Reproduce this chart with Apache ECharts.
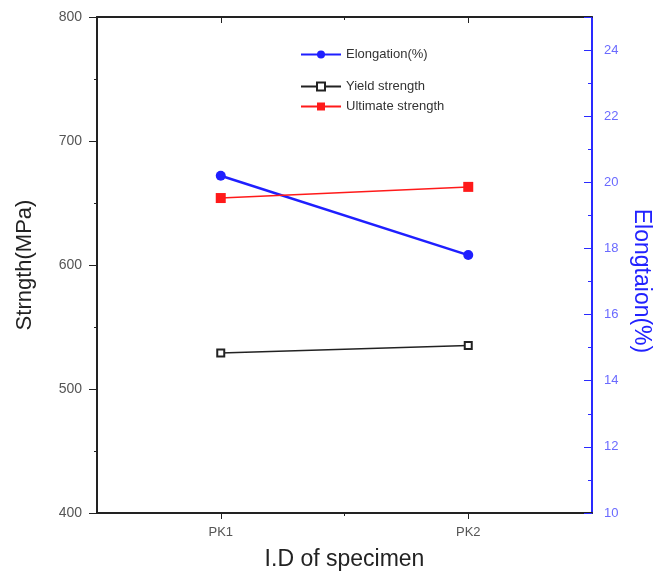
<!DOCTYPE html>
<html lang="en">
  <head>
    <meta charset="UTF-8" />
    <script src="https://cdn.jsdelivr.net/npm/echarts@6/dist/echarts.min.js"></script>
    <title>Strength and elongation</title>
    <style>
      body { margin: 0; background: #fff; }
    </style>
  </head>
  <body>
    <div id="main" style="width: 661px; height: 574px"></div>
    <script>
      var categories = ["PK1", "PK2"];
      var elongation = [20.2, 17.8];
      var yieldStrength = [529, 535];
      var ultimateStrength = [654, 663];

      function pairs(values) {
        return values.map(function (v, i) {
          return [i + 1, v];
        });
      }

      var font = "Liberation Sans, Arial, sans-serif";
      var myChart = echarts.init(document.getElementById("main"));

      var xBase = {
        type: "value",
        min: 0.5,
        max: 2.5,
        interval: 0.5,
        splitLine: { show: false }
      };

      var legendText = { fontSize: 13, color: "#333", fontFamily: font };

      var option = {
        animation: false,
        textStyle: { fontFamily: font },
        grid: { left: 97, right: 69, top: 17, bottom: 61, outerBoundsMode: "none" },
        legend: [
          {
            data: ["Elongation(%)"],
            left: 300,
            top: 48,
            padding: 0,
            itemWidth: 40,
            itemHeight: 10,
            textStyle: legendText
          },
          {
            data: ["Yield strength", "Ultimate strength"],
            orient: "vertical",
            left: 300,
            top: 80,
            padding: 0,
            itemGap: 7,
            itemWidth: 40,
            itemHeight: 10,
            textStyle: legendText
          }
        ],
        xAxis: [
          Object.assign({}, xBase, {
            position: "bottom",
            name: "I.D of specimen",
            nameLocation: "middle",
            nameGap: 35,
            nameTextStyle: { fontSize: 23, color: "#222", fontFamily: font },
            axisLine: { show: true, lineStyle: { color: "#222", width: 2 } },
            axisTick: { show: true, length: 6, customValues: [1, 2], lineStyle: { color: "#222" } },
            axisLabel: {
              customValues: [1, 2],
              fontSize: 13,
              color: "#555",
              margin: 13,
              formatter: function (v) {
                return categories[Math.round(v) - 1] || "";
              }
            }
          }),
          Object.assign({}, xBase, {
            position: "top",
            axisLine: { show: true, lineStyle: { color: "#222", width: 2 } },
            axisTick: { show: true, inside: true, length: 6, customValues: [1, 2], lineStyle: { color: "#222" } },
            axisLabel: { show: false }
          }),
          Object.assign({}, xBase, {
            position: "bottom",
            axisLine: { show: false },
            axisTick: { show: true, length: 3, customValues: [1.5], lineStyle: { color: "#222" } },
            axisLabel: { show: false }
          }),
          Object.assign({}, xBase, {
            position: "top",
            axisLine: { show: false },
            axisTick: { show: true, inside: true, length: 3, customValues: [1.5], lineStyle: { color: "#222" } },
            axisLabel: { show: false }
          })
        ],
        yAxis: [
          {
            type: "value",
            position: "left",
            min: 400,
            max: 800,
            interval: 100,
            name: "Strngth(MPa)",
            nameLocation: "middle",
            nameGap: 61,
            nameTextStyle: { fontSize: 22, color: "#222", fontFamily: font },
            splitLine: { show: false },
            axisLine: { show: true, lineStyle: { color: "#222", width: 2 } },
            axisTick: { show: true, length: 8, lineStyle: { color: "#222" } },
            minorTick: { show: true, splitNumber: 2, length: 3, lineStyle: { color: "#222" } },
            axisLabel: { fontSize: 14, color: "#555", margin: 15 }
          },
          {
            type: "value",
            position: "right",
            min: 10,
            max: 25,
            interval: 2,
            name: "Elongtaion(%)",
            nameLocation: "middle",
            nameRotate: -90,
            nameGap: 38,
            nameTextStyle: {
              fontSize: 23,
              color: "#2222ff",
              fontFamily: font,
              padding: [0, 0, 0, 32]
            },
            splitLine: { show: false },
            axisLine: { show: true, lineStyle: { color: "#2a2aff", width: 2 } },
            axisTick: { show: true, inside: true, length: 8, lineStyle: { color: "#2a2aff" } },
            minorTick: { show: true, splitNumber: 2, length: 4, lineStyle: { color: "#2a2aff" } },
            axisLabel: {
              fontSize: 13,
              color: "#6a6aff",
              margin: 12,
              showMaxLabel: false
            }
          }
        ],
        series: [
          {
            name: "Elongation(%)",
            type: "line",
            yAxisIndex: 1,
            data: pairs(elongation),
            symbol: "circle",
            symbolSize: 10,
            itemStyle: { color: "#1f1fff" },
            lineStyle: { color: "#1f1fff", width: 2.5 }
          },
          {
            name: "Yield strength",
            type: "line",
            yAxisIndex: 0,
            data: pairs(yieldStrength),
            symbol: "emptyRect",
            symbolSize: 7,
            itemStyle: { color: "#222", borderColor: "#222", borderWidth: 1 },
            lineStyle: { color: "#222", width: 1.5 }
          },
          {
            name: "Ultimate strength",
            type: "line",
            yAxisIndex: 0,
            data: pairs(ultimateStrength),
            symbol: "rect",
            symbolSize: 10,
            itemStyle: { color: "#ff1a1a" },
            lineStyle: { color: "#ff1a1a", width: 1.5 }
          }
        ]
      };

      myChart.setOption(option);
    </script>
  </body>
</html>
